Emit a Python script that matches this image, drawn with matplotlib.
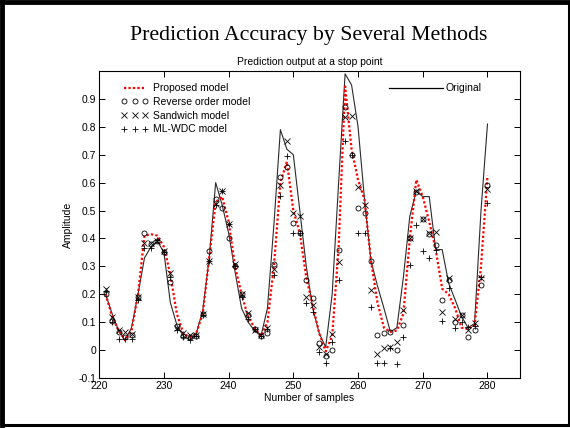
import matplotlib
matplotlib.use("Agg")
import matplotlib.pyplot as plt
from matplotlib.lines import Line2D
import numpy as np

# samples 221..280
samples = np.arange(221, 281)

original = [0.20, 0.13, 0.07, 0.035, 0.08, 0.20, 0.33, 0.37, 0.39, 0.35,
            0.17, 0.09, 0.05, 0.035, 0.06, 0.14, 0.33, 0.60, 0.52, 0.42,
            0.28, 0.15, 0.10, 0.07, 0.05, 0.15, 0.45, 0.79, 0.72, 0.70,
            0.50, 0.30, 0.15, 0.06, 0.01, 0.20, 0.60, 0.99, 0.95, 0.80,
            0.54, 0.32, 0.23, 0.15, 0.065, 0.08, 0.26, 0.48, 0.57, 0.55,
            0.55, 0.36, 0.36, 0.24, 0.18, 0.12, 0.08, 0.095, 0.50, 0.81]

proposed = [0.20, 0.12, 0.07, 0.035, 0.07, 0.20, 0.41, 0.415, 0.41, 0.37,
            0.27, 0.13, 0.06, 0.045, 0.06, 0.13, 0.33, 0.53, 0.55, 0.46,
            0.30, 0.20, 0.12, 0.08, 0.05, 0.10, 0.30, 0.60, 0.675, 0.50,
            0.42, 0.26, 0.16, 0.06, -0.005, 0.05, 0.37, 0.945, 0.72, 0.61,
            0.54, 0.32, 0.17, 0.08, 0.065, 0.07, 0.13, 0.40, 0.61, 0.55,
            0.46, 0.36, 0.22, 0.20, 0.15, 0.08, 0.075, 0.09, 0.30, 0.625]

reverse_order = [0.20, 0.105, 0.066, 0.048, 0.054, 0.19, 0.42, 0.38, 0.39, 0.35,
                 0.245, 0.087, 0.05, 0.045, 0.05, 0.13, 0.355, 0.54, 0.51, 0.40,
                 0.30, 0.20, 0.125, 0.074, 0.05, 0.062, 0.31, 0.62, 0.655, 0.454,
                 0.42, 0.25, 0.185, 0.024, -0.02, 0.0, 0.36, 0.87, 0.70, 0.51,
                 0.49, 0.32, 0.054, 0.06, 0.066, 0.0, 0.09, 0.40, 0.567, 0.468,
                 0.415, 0.376, 0.18, 0.25, 0.10, 0.125, 0.048, 0.07, 0.233, 0.59]

sandwich = [0.22, 0.12, 0.07, 0.065, 0.057, 0.19, 0.385, 0.385, 0.39, 0.355,
            0.275, 0.08, 0.06, 0.055, 0.055, 0.13, 0.32, 0.525, 0.57, 0.45,
            0.31, 0.20, 0.134, 0.072, 0.055, 0.078, 0.29, 0.59, 0.75, 0.49,
            0.48, 0.19, 0.16, 0.01, -0.015, 0.057, 0.317, 0.836, 0.84, 0.585,
            0.52, 0.215, -0.014, 0.006, 0.01, 0.027, 0.143, 0.40, 0.57, 0.47,
            0.42, 0.424, 0.137, 0.257, 0.11, 0.125, 0.07, 0.096, 0.257, 0.576]

ml_wdc = [0.21, 0.10, 0.04, 0.038, 0.04, 0.18, 0.365, 0.365, 0.394, 0.35,
          0.26, 0.07, 0.045, 0.036, 0.05, 0.125, 0.32, 0.52, 0.57, 0.45,
          0.30, 0.19, 0.11, 0.075, 0.05, 0.075, 0.27, 0.553, 0.695, 0.418,
          0.42, 0.17, 0.137, -0.006, -0.048, 0.03, 0.25, 0.75, 0.70, 0.42,
          0.42, 0.155, -0.045, -0.045, 0.006, -0.05, 0.048, 0.305, 0.448, 0.356,
          0.33, 0.36, 0.105, 0.223, 0.078, 0.10, 0.084, 0.085, 0.26, 0.528]

xticks = [220, 230, 240, 250, 260, 270, 280]
yticks = np.round(np.arange(-0.1, 0.95, 0.1), 1)

sans = "Liberation Sans"

fig = plt.figure(figsize=(5.7, 4.28), dpi=100)
ax = fig.add_axes([0.174, 0.117, 0.738, 0.717])

l_orig, = ax.plot(samples, original, color="#2a2a2a", lw=0.8)
l_prop, = ax.plot(samples, proposed, color="red", lw=1.6, ls=(0, (1, 1)))
m_rev, = ax.plot(samples, reverse_order, ls="none", marker="o", ms=3.6,
                 mfc="none", mec="black", mew=0.6)
m_sw, = ax.plot(samples, sandwich, ls="none", marker="x", ms=3.8,
                color="black", mew=0.6)
m_ml, = ax.plot(samples, ml_wdc, ls="none", marker="+", ms=4.6,
                color="black", mew=0.6)

ax.set_xlim(220, 285)
ax.set_ylim(-0.1, 1.0)
ax.set_xticks(xticks)
ax.set_yticks(yticks)
ax.set_yticklabels(["-0.1", "0"] + [f"{v:.1f}" for v in yticks[2:]])
ax.tick_params(direction="in", top=True, right=True, length=4, width=0.7,
               labelsize=7.5, pad=2)
for lab in ax.get_xticklabels() + ax.get_yticklabels():
    lab.set_family(sans)
for sp in ax.spines.values():
    sp.set_linewidth(0.8)

ax.set_xlabel("Number of samples", fontsize=7.5, family=sans, labelpad=2)
ax.set_ylabel("Amplitude", fontsize=7.5, family=sans, labelpad=4)
ax.set_title("Prediction output at a stop point", fontsize=7.5, family=sans, pad=4)

leg1 = ax.legend([l_prop, m_rev, m_sw, m_ml],
                 ["Proposed model", "Reverse order model", "Sandwich model", "ML-WDC model"],
                 loc="upper left", bbox_to_anchor=(0.03, 0.99), frameon=False,
                 numpoints=3, handlelength=2.6, handletextpad=0.5, labelspacing=0.35,
                 prop={"family": sans, "size": 7.5})
ax.add_artist(leg1)
ax.legend([Line2D([], [], color="black", lw=0.9)], ["Original"],
          loc="upper right", bbox_to_anchor=(0.93, 0.99), frameon=False,
          handlelength=5.2, handletextpad=0.2, prop={"family": sans, "size": 7.5})

fig.text(0.541, 0.918, "Prediction Accuracy by Several Methods",
         family="Liberation Serif", fontsize=15.7, ha="center", va="center")

# slide frame
fig.add_artist(plt.Rectangle((0.003, 0.008), 0.995, 0.988, transform=fig.transFigure,
                             fill=False, lw=2.2, color="black"))
fig.add_artist(Line2D([0.004, 0.004], [0.008, 0.996], transform=fig.transFigure,
                      color="black", lw=3.5))
fig.add_artist(Line2D([0.003, 0.997], [0.995, 0.995], transform=fig.transFigure,
                      color="black", lw=3.5))

fig.savefig("out.png", dpi=100)
